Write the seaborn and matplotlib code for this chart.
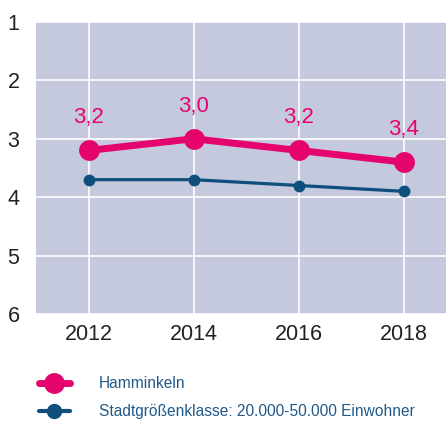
import numpy as np
import pandas as pd
import seaborn as sns
import matplotlib.pyplot as plt
from matplotlib.lines import Line2D

years = [2012, 2014, 2016, 2018]
hamminkeln = [3.2, 3.0, 3.2, 3.4]
klasse = [3.7, 3.7, 3.8, 3.9]
labels = ['3,2', '3,0', '3,2', '3,4']

pink = '#e5046e'
blue = '#0e4f7d'

sns.set_style('whitegrid')
plt.rcParams['font.family'] = ['Liberation Sans', 'DejaVu Sans']

fig = plt.figure(figsize=(4.46, 4.21), dpi=100)
ax = fig.add_axes([0.081, 0.254, 0.919, 0.694])
ax.set_facecolor('#c5c9dd')

sns.lineplot(x=years, y=klasse, ax=ax, color=blue, lw=2.3, marker='o',
             markersize=8.5, markeredgewidth=0)
sns.lineplot(x=years, y=hamminkeln, ax=ax, color=pink, lw=5, marker='o',
             markersize=15, markeredgewidth=0)
for x, y, t in zip(years, hamminkeln, labels):
    ax.text(x, y - 0.38, t, color=pink, fontsize=16, ha='center', va='bottom')

ax.set_ylim(6, 1)
ax.set_xlim(2011.0, 2018.8)
ax.set_xticks(years)
ax.set_yticks([1, 2, 3, 4, 5, 6])
ax.grid(True, color='white', lw=1.2)
for s in ax.spines.values():
    s.set_visible(False)
ax.tick_params(axis='both', length=0, labelsize=15.5, colors='#222222')
ax.tick_params(axis='y', pad=12)
ax.tick_params(axis='x', pad=7)
ax.set_xlabel('')
ax.set_ylabel('')

handles = [Line2D([], [], color=pink, lw=5, marker='o', markersize=14),
           Line2D([], [], color=blue, lw=3, marker='o', markersize=10)]
fig.legend(handles, ['Hamminkeln', 'Stadtgrößenklasse: 20.000-50.000 Einwohner'],
           loc='upper left', bbox_to_anchor=(0.055, 0.14), frameon=False,
           fontsize=11.2, labelcolor='#1f5a8a', handlelength=2.0, handletextpad=1.9,
           labelspacing=0.85)

fig.savefig('out.png', dpi=100)
